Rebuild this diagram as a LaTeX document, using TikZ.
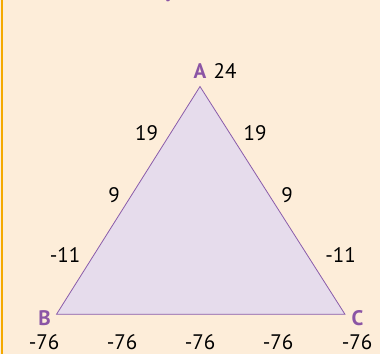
\documentclass[tikz,border=0pt]{standalone}
\usepackage{fontspec}
\setmainfont{PT Sans}
\definecolor{paper}{HTML}{FDEDD9}
\definecolor{rule}{HTML}{F4A900}
\definecolor{tri}{HTML}{E6DCEC}
\definecolor{edge}{HTML}{8A5CAA}
\definecolor{vlabel}{HTML}{8B55A5}

\begin{document}
\begin{tikzpicture}[x=1pt,y=-1pt,
            font=\fontsize{21}{24}\selectfont,
            vertex/.style={font=\fontsize{21}{24}\selectfont\bfseries,
                text=vlabel, anchor=base, inner sep=0pt},
            val/.style={text=black, anchor=base, inner sep=0pt}
        ]
        \useasboundingbox (0,0) rectangle (380,354);
        \fill[paper] (0,0) rectangle (380,354);
        \clip (0,0) rectangle (380,354);
        \draw[rule, line width=2.5pt] (2.2,0) -- (2.2,354);
        \node[vertex] (title) at (170,-2.5) {y};
        % triangle
        \coordinate (A) at (200,86.5);
        \coordinate (B) at (56.5,314.3);
        \coordinate (C) at (345,314.3);
        \filldraw[fill=tri, draw=edge, line width=0.8pt] (A) -- (B) -- (C) -- cycle;
        \node[vertex] (lA) at (200,78) {A};
        \node[vertex] (lB) at (44.5,325) {B};
        \node[vertex] (lC) at (357.5,325) {C};
        % values
        \node[val] (vA) at (225,78) {24};
        \node[val] (ab1) at (146.5,140) {19};
        \node[val] (ab2) at (114,202) {9};
        \node[val] (ab3) at (65,262) {-11};
        \node[val] (ac1) at (255,140) {19};
        \node[val] (ac2) at (287,202) {9};
        \node[val] (ac3) at (340.5,262) {-11};
        \node[val] (bc0) at (44,349.5) {-76};
        \node[val] (bc1) at (122,349.5) {-76};
        \node[val] (bc2) at (200,349.5) {-76};
        \node[val] (bc3) at (278,349.5) {-76};
        \node[val] (bc4) at (357,349.5) {-76};
    \end{tikzpicture}
\end{document}
